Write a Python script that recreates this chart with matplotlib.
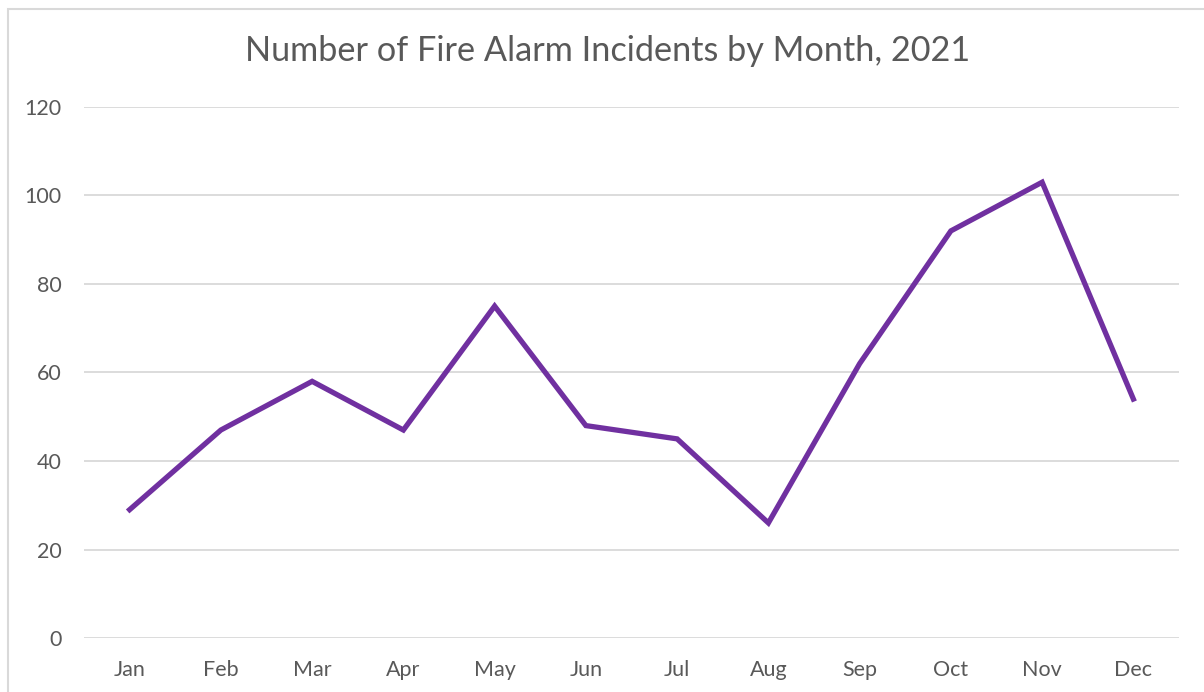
import matplotlib
matplotlib.use("Agg")
import matplotlib.pyplot as plt
from matplotlib.patches import Rectangle

months = ["Jan", "Feb", "Mar", "Apr", "May", "Jun", "Jul", "Aug", "Sep", "Oct", "Nov", "Dec"]
incidents = [29, 47, 58, 47, 75, 48, 45, 26, 62, 92, 103, 54]
yticks = [0, 20, 40, 60, 80, 100, 120]

W, H = 1204, 692
fig = plt.figure(figsize=(W / 100, H / 100), dpi=100)
fig.patch.set_facecolor("white")

# chart border (partially cropped at right/bottom)
fig.patches.append(Rectangle((8 / W, -0.05), 1.2, 1 - 9 / H + 0.05, transform=fig.transFigure,
                             fill=False, edgecolor="#D9D9D9", linewidth=1.5))

ax = fig.add_axes([84 / W, 1 - 638 / H, (1179 - 84) / W, (638 - 107) / H])
x = list(range(len(months)))
ax.plot(x, incidents, color="#7030A0", linewidth=3.8, solid_joinstyle="miter", zorder=3)

ax.set_xlim(-0.5, len(months) - 0.5)
ax.set_ylim(0, 120)
ax.set_yticks(yticks)
ax.set_xticks(x)
ax.set_xticklabels(months)
ax.grid(axis="y", color="#D9D9D9", linewidth=1.3)
ax.set_axisbelow(True)
for s in ax.spines.values():
    s.set_visible(False)
ax.tick_params(axis="both", length=0, labelsize=15.5, labelcolor="#595959")
ax.tick_params(axis="x", pad=16)
ax.tick_params(axis="y", pad=16)
for lab in ax.get_xticklabels() + ax.get_yticklabels():
    lab.set_fontfamily("Lato")

fig.text(608 / W, 1 - 51 / H, "Number of Fire Alarm Incidents by Month, 2021", ha="center", va="center",
         fontsize=24.7, color="#595959", family="Lato")

fig.savefig("out.png", dpi=100, facecolor="white")
